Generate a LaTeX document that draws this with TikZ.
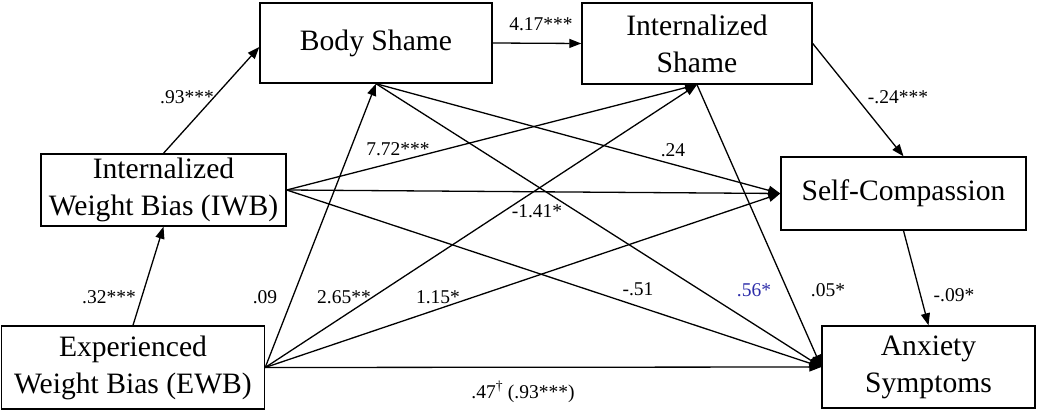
\documentclass[tikz,border=0pt]{standalone}
\usepackage{fontspec}
\setmainfont{Liberation Serif}
\usetikzlibrary{arrows.meta,calc}
\definecolor{lblblue}{RGB}{45,45,170}
\tikzset{
  box/.style={draw=black, line width=1.4pt, rectangle, align=center, inner sep=0pt,
    font=\fontsize{29.6}{37}\selectfont},
  conn/.style={line width=1.3pt, -{Triangle[length=12pt,width=9pt]}},
  lbl/.style={font=\fontsize{19.5}{22}\selectfont, inner sep=0pt},
}
\begin{document}
\begin{tikzpicture}[x=1pt,y=-1pt]
\useasboundingbox (0,0) rectangle (1038,411);
% boxes
\node[box, minimum width=232pt, minimum height=80pt] (bs) at (376,43) {Body Shame};
\node[box, minimum width=230pt, minimum height=81pt] (is) at (697,43.5) {Internalized\\Shame};
\node[box, minimum width=245pt, minimum height=73pt] (sc) at (903.5,193.5) {Self-Compassion};
\node[box, minimum width=213pt, minimum height=82pt] (an) at (928.5,367) {Anxiety\\Symptoms};
\node[box, minimum width=245pt, minimum height=72pt] (iwb) at (163.5,190) {Internalized\\Weight Bias (IWB)};
\node[box, minimum width=263pt, minimum height=83pt] (ewb) at (133,367.5) {Experienced\\Weight Bias (EWB)};
% connectors
\draw[conn] (ewb.north) -- (iwb.south);
\draw[conn] (iwb.north) -- ($(bs.west)+(0,4)$);
\draw[conn] (bs.east) -- (is.west);
\draw[conn] (is.east) -- (sc.north);
\draw[conn] (sc.south) -- (an.north);
% from EWB
\draw[conn] (ewb.east) -- (bs.south);
\draw[conn] (ewb.east) -- (is.south);
\draw[conn] (ewb.east) -- (sc.west);
\draw[conn] (ewb.east) -- (an.west);
% from IWB
\draw[conn] (iwb.east) -- (is.south);
\draw[conn] (iwb.east) -- (sc.west);
\draw[conn] (iwb.east) -- (an.west);
% from Body Shame
\draw[conn] (bs.south) -- (sc.west);
\draw[conn] (bs.south) -- (an.west);
% from Internalized Shame
\draw[conn] (is.south) -- (an.west);
% labels
\node[lbl] (l1) at (187,97) {.93***};
\node[lbl] (l2) at (541,24) {4.17***};
\node[lbl] (l3) at (898,97) {-.24***};
\node[lbl] (l4) at (398,149) {7.72***};
\node[lbl] (l5) at (673,150) {.24};
\node[lbl] (l6) at (537,211) {-1.41*};
\node[lbl] (l7) at (109,297) {.32***};
\node[lbl] (l8) at (265,297) {.09};
\node[lbl] (l9) at (344,297) {2.65**};
\node[lbl] (l10) at (438,297) {1.15*};
\node[lbl] (l11) at (638,289) {-.51};
\node[lbl, text=lblblue] (l12) at (754,290) {.56*};
\node[lbl] (l13) at (828,290) {.05*};
\node[lbl] (l14) at (954,295) {-.09*};
\node[lbl] (l15) at (523,392) {.47\textsuperscript{†} (.93***)};
\end{tikzpicture}
\end{document}
